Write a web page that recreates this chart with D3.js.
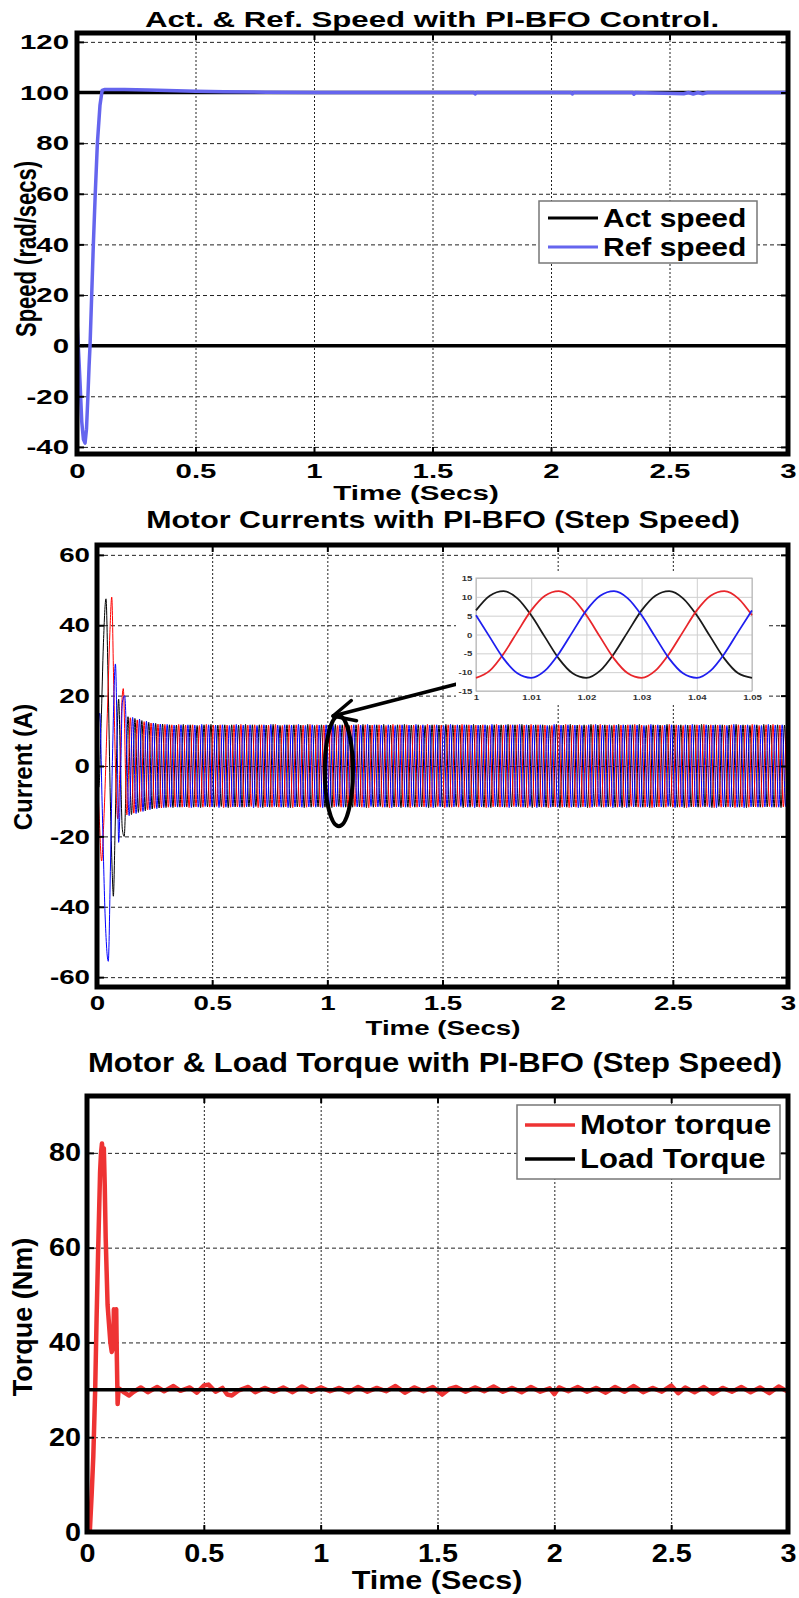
<!DOCTYPE html>
<html>
<head>
<meta charset="utf-8">
<script src="https://cdn.jsdelivr.net/npm/d3@7.9.0/dist/d3.min.js"></script>
<style>
  body { margin: 0; background: #fff; }
  svg text { font-family: "Liberation Sans", Arial, sans-serif; font-weight: bold; }
</style>
</head>
<body>
<svg id="fig" width="799" height="1598"></svg>
<script>
// ---------- data ----------
const timeTicks = [0, 0.5, 1, 1.5, 2, 2.5, 3];
const speedTicks = [-40, -20, 0, 20, 40, 60, 80, 100, 120];
const currentTicks = [-60, -40, -20, 0, 20, 40, 60];
const torqueTicks = [0, 20, 40, 60, 80];
const insetTimeTicks = [1, 1.01, 1.02, 1.03, 1.04, 1.05];
const insetCurrentTicks = [-15, -10, -5, 0, 5, 10, 15];

// speed panel (blue trace is the one the legend calls "Ref speed")
const refSpeed = [
  [0, 10], [0.008, -5], [0.014, -17], [0.02, -30], [0.027, -37], [0.034, -38.5],
  [0.04, -33], [0.046, -20], [0.051, -8], [0.055, 0], [0.062, 20], [0.069, 40],
  [0.077, 60], [0.086, 80], [0.097, 95], [0.106, 100.8], [0.118, 101.2], [0.2, 101.2],
  [0.3, 101], [0.38, 100.8], [0.5, 100.5], [0.62, 100.3], [0.8, 100.1], [1, 100],
  [1.675, 100], [1.68, 99.4], [1.685, 100], [2.085, 100], [2.09, 99.4], [2.095, 100],
  [2.345, 100], [2.35, 99.3], [2.355, 100], [2.56, 99.5], [2.58, 100], [2.6, 99.4],
  [2.62, 100], [2.64, 99.5], [2.66, 100], [3, 100]
];
const actSpeedHigh = [[0, 100], [3, 100]];
const actSpeedLow = [[0, 0], [3, 0]];

// currents: start-up transient (time, amps)
const blackTransient = [
  [0, 0], [0.008, -6], [0.018, 12], [0.028, 35], [0.039, 47.5], [0.048, 25], [0.058, -10],
  [0.066, -30], [0.071, -37], [0.078, -20], [0.086, 5], [0.094, 19], [0.102, 0],
  [0.11, -18], [0.118, -20]
];
const redTransient = [
  [0, 0], [0.01, -15], [0.02, -27], [0.03, -15], [0.045, 15], [0.056, 38], [0.064, 48],
  [0.072, 25], [0.082, -5], [0.09, -15], [0.1, 0], [0.108, 18], [0.114, 22]
];
const blueTransient = [
  [0, 5], [0.012, 15], [0.022, -10], [0.035, -42], [0.049, -55.5], [0.058, -30],
  [0.068, 5], [0.08, 29], [0.088, 5], [0.094, -21.7], [0.102, -5], [0.11, 18], [0.12, 20]
];

// steady state: successive peaks/troughs, one every half period (0.03 s period from the inset)
const halfPeriod = 0.015;
const blackStart = 0.1347, redStart = 0.1297, blueStart = 0.1397;
const blackSteady = [
  14.0,-13.8,13.5,-13.2,12.9,-12.7,12.4,-12.2,12.1,-11.9,11.9,-11.8,11.7,-11.8,11.6,-11.7,
  11.8,-11.6,11.7,-11.7,11.5,-11.8,11.7,-11.6,11.8,-11.7,11.6,-11.5,11.7,-11.8,11.7,-11.6,
  11.6,-11.7,11.8,-11.6,11.7,-11.5,11.7,-11.8,11.6,-11.7,11.8,-11.6,11.5,-11.7,11.7,-11.8,
  11.7,-11.6,11.6,-11.8,11.8,-11.7,11.5,-11.6,11.7,-11.7,11.6,-11.8,11.8,-11.5,11.7,-11.7,
  11.5,-11.7,11.7,-11.6,11.8,-11.8,11.6,-11.7,11.7,-11.5,11.8,-11.7,11.6,-11.6,11.7,-11.8,
  11.8,-11.7,11.6,-11.7,11.7,-11.6,11.5,-11.8,11.7,-11.7,11.6,-11.6,11.8,-11.7,11.7,-11.5,
  11.6,-11.8,11.7,-11.7,11.8,-11.6,11.6,-11.7,11.5,-11.8,11.7,-11.6,11.7,-11.7,11.8,-11.6,
  11.7,-11.5,11.8,-11.7,11.6,-11.8,11.7,-11.6,11.7,-11.7,11.5,-11.6,11.8,-11.8,11.6,-11.7,
  11.8,-11.6,11.6,-11.7,11.7,-11.8,11.8,-11.5,11.6,-11.7,11.7,-11.6,11.5,-11.7,11.8,-11.8,
  11.6,-11.7,11.7,-11.6,11.8,-11.7,11.5,-11.8,11.7,-11.6,11.6,-11.7,11.8,-11.5,11.7,-11.7,
  11.7,-11.8,11.6,-11.6,11.7,-11.7,11.8,-11.6,11.6,-11.8,11.7,-11.5,11.7,-11.7,11.6,-11.6,
  11.8,-11.7,11.7,-11.8,11.5,-11.6,11.7,-11.7,11.8,-11.6,11.6,-11.7,11.7,-11.8,11.6,-11.7,
  11.7
];
const redSteady = [
  -13.9,13.7,-13.4,13.1,-12.9,12.6,-12.4,12.2,-12.0,11.9,-11.9,11.8,-11.7,11.7,-11.6,11.8,
  -11.7,11.6,-11.8,11.7,-11.6,11.5,-11.7,11.8,-11.7,11.6,-11.5,11.7,-11.8,11.6,-11.7,11.7,
  -11.6,11.8,-11.7,11.6,-11.5,11.7,-11.8,11.7,-11.6,11.6,-11.7,11.8,-11.7,11.5,-11.6,11.7,
  -11.8,11.7,-11.6,11.6,-11.7,11.8,-11.5,11.7,-11.7,11.6,-11.8,11.7,-11.6,11.5,-11.7,11.8,
  -11.7,11.6,-11.5,11.8,-11.7,11.7,-11.8,11.6,-11.6,11.7,-11.7,11.5,-11.8,11.8,-11.6,11.7,
  -11.6,11.7,-11.8,11.6,-11.7,11.5,-11.6,11.8,-11.7,11.7,-11.5,11.6,-11.8,11.7,-11.7,11.6,
  -11.7,11.8,-11.6,11.7,-11.5,11.6,-11.7,11.7,-11.8,11.5,-11.6,11.8,-11.7,11.6,-11.7,11.7,
  -11.5,11.7,-11.7,11.6,-11.8,11.8,-11.6,11.7,-11.7,11.6,-11.8,11.5,-11.6,11.7,-11.7,11.8,
  -11.8,11.6,-11.7,11.7,-11.6,11.5,-11.8,11.7,-11.6,11.8,-11.7,11.6,-11.5,11.7,-11.7,11.6,
  -11.6,11.7,-11.5,11.8,-11.7,11.6,-11.7,11.7,-11.8,11.6,-11.6,11.5,-11.7,11.8,-11.7,11.7,
  -11.7,11.5,-11.8,11.6,-11.6,11.7,-11.7,11.8,-11.5,11.7,-11.8,11.6,-11.7,11.6,-11.6,11.7,
  -11.8,11.7,-11.6,11.6,-11.7,11.8,-11.6,11.5,-11.7,11.7,-11.5,11.8,-11.7,11.6,-11.6,11.7,
  -11.7
];
const blueSteady = [
  -14.1,13.8,-13.5,13.3,-12.9,12.7,-12.4,12.2,-12.1,11.9,-11.8,11.8,-11.7,11.6,-11.7,11.7,
  -11.6,11.7,-11.8,11.6,-11.7,11.8,-11.5,11.7,-11.6,11.6,-11.8,11.7,-11.7,11.5,-11.6,11.8,
  -11.7,11.6,-11.6,11.7,-11.8,11.5,-11.7,11.7,-11.6,11.8,-11.5,11.6,-11.7,11.7,-11.8,11.6,
  -11.6,11.8,-11.7,11.5,-11.6,11.7,-11.7,11.6,-11.8,11.7,-11.6,11.8,-11.5,11.7,-11.7,11.6,
  -11.8,11.7,-11.6,11.6,-11.7,11.8,-11.5,11.7,-11.6,11.6,-11.7,11.7,-11.8,11.5,-11.6,11.7,
  -11.7,11.6,-11.5,11.8,-11.6,11.7,-11.7,11.6,-11.8,11.7,-11.6,11.5,-11.7,11.8,-11.6,11.7,
  -11.5,11.7,-11.7,11.6,-11.8,11.6,-11.6,11.7,-11.7,11.8,-11.5,11.6,-11.6,11.7,-11.8,11.7,
  -11.6,11.8,-11.7,11.7,-11.5,11.6,-11.8,11.7,-11.6,11.5,-11.7,11.8,-11.7,11.6,-11.6,11.7,
  -11.7,11.6,-11.8,11.5,-11.6,11.7,-11.7,11.8,-11.5,11.6,-11.7,11.7,-11.8,11.6,-11.6,11.7,
  -11.8,11.7,-11.6,11.6,-11.7,11.5,-11.6,11.8,-11.7,11.7,-11.6,11.6,-11.5,11.7,-11.8,11.6,
  -11.6,11.7,-11.7,11.8,-11.6,11.6,-11.5,11.7,-11.7,11.6,-11.8,11.7,-11.6,11.5,-11.7,11.8,
  -11.7,11.6,-11.8,11.7,-11.6,11.7,-11.7,11.5,-11.6,11.8,-11.7,11.6,-11.7,11.7,-11.5,11.6,
  -11.6
];

// inset: one 50 ms window around t = 1 s
const insetTimes = [1, 1.0025, 1.005, 1.0075, 1.01, 1.0125, 1.015, 1.0175, 1.02, 1.0225, 1.025,
  1.0275, 1.03, 1.0325, 1.035, 1.0375, 1.04, 1.0425, 1.045, 1.0475, 1.05];
const insetBlack = [6.4, 10.3, 11.5, 9.6, 5.1, -0.7, -6.4, -10.3, -11.5, -9.6, -5.1, 0.7, 6.4, 10.3,
  11.5, 9.6, 5.1, -0.7, -6.4, -10.3, -11.5];
const insetRed = [-11.5, -9.6, -5.1, 0.7, 6.4, 10.3, 11.5, 9.6, 5.1, -0.7, -6.4, -10.3, -11.5, -9.6,
  -5.1, 0.7, 6.4, 10.3, 11.5, 9.6, 5.1];
const insetBlue = [5.1, -0.7, -6.4, -10.3, -11.5, -9.6, -5.1, 0.7, 6.4, 10.3, 11.5, 9.6, 5.1, -0.7,
  -6.4, -10.3, -11.5, -9.6, -5.1, 0.7, 6.4];

// torque panel
const motorTorque = [
  [0, 0], [0.012, 0], [0.02, 8], [0.027, 16], [0.035, 30], [0.041, 45], [0.048, 60],
  [0.052, 68], [0.056, 76], [0.06, 80], [0.064, 82], [0.068, 79], [0.072, 81], [0.076, 73],
  [0.08, 62], [0.084, 55], [0.088, 48], [0.094, 44], [0.1, 40], [0.106, 38], [0.112, 39],
  [0.115, 47], [0.12, 46], [0.125, 47], [0.128, 36], [0.131, 27], [0.135, 30],
  [0.14, 30.2], [0.16, 29.4], [0.18, 28.8], [0.2, 29.6], [0.23, 30.5], [0.26, 29.5],
  [0.3, 30.6], [0.33, 29.7], [0.37, 30.8], [0.4, 29.8], [0.44, 30.5], [0.47, 29.4],
  [0.5, 30.9], [0.52, 31.1], [0.55, 29.6], [0.58, 30.4], [0.6, 29.0], [0.62, 28.8],
  [0.65, 29.9], [0.69, 30.6], [0.72, 29.5], [0.76, 30.4], [0.8, 29.6], [0.84, 30.5],
  [0.88, 29.5], [0.92, 30.7], [0.96, 29.6], [1.0, 30.5], [1.04, 29.7], [1.08, 30.4],
  [1.12, 29.5], [1.16, 30.6], [1.2, 29.6], [1.24, 30.4], [1.28, 29.7], [1.32, 30.8],
  [1.36, 29.4], [1.4, 30.5], [1.44, 29.7], [1.48, 30.6], [1.52, 29.0], [1.55, 30.2],
  [1.58, 30.6], [1.62, 29.6], [1.66, 30.5], [1.7, 29.7], [1.74, 30.7], [1.78, 29.6],
  [1.82, 30.4], [1.86, 29.5], [1.9, 30.6], [1.94, 29.6], [1.98, 30.3], [2.0, 29.1],
  [2.02, 30.5], [2.06, 29.7], [2.1, 30.6], [2.14, 29.6], [2.18, 30.4], [2.22, 29.4],
  [2.26, 30.6], [2.3, 29.6], [2.34, 30.8], [2.38, 29.5], [2.42, 30.4], [2.46, 29.6],
  [2.5, 30.9], [2.53, 29.3], [2.56, 30.5], [2.6, 29.5], [2.64, 30.6], [2.68, 29.2],
  [2.72, 30.4], [2.76, 29.6], [2.8, 30.6], [2.84, 29.5], [2.88, 30.5], [2.92, 29.3],
  [2.96, 30.7], [3.0, 29.6]
];
const loadTorque = [[0, 30], [3, 30]];

// ---------- drawing ----------
const svg = d3.select('#fig');
let clipCount = 0;

function panel(box, yDomain, yTicks) {
  const g = svg.append('g');
  const x = d3.scaleLinear().domain([0, 3]).range([box.left, box.right]);
  const y = d3.scaleLinear().domain(yDomain).range([box.bottom, box.top]);
  const w = box.right - box.left, h = box.bottom - box.top;

  g.append('g').attr('transform', `translate(0,${box.bottom})`)
    .call(d3.axisBottom(x).tickValues(timeTicks).tickSize(-h).tickFormat(''))
    .call(s => s.select('.domain').remove())
    .selectAll('line').attr('stroke', '#222').attr('stroke-dasharray', '2,2');
  g.append('g').attr('transform', `translate(${box.left},0)`)
    .call(d3.axisLeft(y).tickValues(yTicks).tickSize(-w).tickFormat(''))
    .call(s => s.select('.domain').remove())
    .selectAll('line').attr('stroke', '#222').attr('stroke-dasharray', '4,3');

  const id = 'clip' + (clipCount++);
  svg.append('clipPath').attr('id', id).append('rect')
    .attr('x', box.left).attr('y', box.top).attr('width', w).attr('height', h);
  const plot = g.append('g').attr('clip-path', `url(#${id})`);
  return { g, plot, x, y, box, yTicks };
}

function frame(p, fs, sx, padX, padY) {
  const { g, x, y, box } = p;
  // inward tick marks on all four sides
  const tk = [
    [d3.axisBottom(x).tickValues(timeTicks), `translate(0,${box.bottom})`],
    [d3.axisTop(x).tickValues(timeTicks), `translate(0,${box.top})`],
    [d3.axisLeft(y).tickValues(p.yTicks), `translate(${box.left},0)`],
    [d3.axisRight(y).tickValues(p.yTicks), `translate(${box.right},0)`]
  ];
  tk.forEach(([ax, tr]) => {
    g.append('g').attr('transform', tr)
      .call(ax.tickSize(-7).tickFormat(''))
      .call(s => s.select('.domain').remove())
      .selectAll('line').attr('stroke', '#000').attr('stroke-width', 2);
  });
  g.append('rect')
    .attr('x', box.left).attr('y', box.top)
    .attr('width', box.right - box.left).attr('height', box.bottom - box.top)
    .attr('fill', 'none').attr('stroke', '#000').attr('stroke-width', 5);

  const bx = g.append('g').attr('transform', `translate(0,${box.bottom})`)
    .call(d3.axisBottom(x).tickValues(timeTicks).tickSize(0).tickPadding(padY).tickFormat(d => d));
  bx.select('.domain').remove();
  bx.selectAll('text').attr('font-size', fs).attr('fill', '#000').attr('transform', `scale(${sx},1)`);

  const by = g.append('g').attr('transform', `translate(${box.left},0)`)
    .call(d3.axisLeft(y).tickValues(p.yTicks).tickSize(0).tickPadding(padX / sx).tickFormat(d => d));
  by.select('.domain').remove();
  by.selectAll('text').attr('font-size', fs).attr('fill', '#000').attr('transform', `scale(${sx},1)`);
}

function label(x, y, str, fs, sx, rot) {
  return svg.append('text')
    .attr('transform', `translate(${x},${y}) scale(${sx},1)` + (rot ? ` rotate(${rot})` : ''))
    .attr('text-anchor', 'middle').attr('dy', '0.35em')
    .attr('font-size', fs).attr('fill', '#000').text(str);
}

function trace(p, pts, color, width, curve) {
  p.plot.append('path')
    .datum(pts)
    .attr('fill', 'none').attr('stroke', color).attr('stroke-width', width)
    .attr('stroke-linejoin', 'round')
    .attr('d', d3.line().x(d => p.x(d[0])).y(d => p.y(d[1])).curve(curve || d3.curveLinear));
}

function legend(box, rows, fs, sx) {
  const lg = svg.append('g');
  lg.append('rect').attr('x', box.x).attr('y', box.y).attr('width', box.w).attr('height', box.h)
    .attr('fill', '#fff').attr('stroke', '#777').attr('stroke-width', 1.5);
  rows.forEach((r, i) => {
    const cy = box.y + box.rows[i];
    lg.append('line').attr('x1', box.x + box.l0).attr('x2', box.x + box.l1)
      .attr('y1', cy).attr('y2', cy).attr('stroke', r.color).attr('stroke-width', r.width);
    lg.append('text')
      .attr('transform', `translate(${box.x + box.tx},${cy}) scale(${sx},1)`)
      .attr('dy', '0.35em').attr('font-size', fs).attr('fill', '#000').text(r.name);
  });
}

// ----- panel 1: speed -----
const p1 = panel({ left: 77, right: 788, top: 33, bottom: 454 }, [-42.8, 123.5], speedTicks);
trace(p1, actSpeedLow, '#000', 3.5);
trace(p1, actSpeedHigh, '#000', 3.5);
trace(p1, refSpeed, '#6565ee', 3.5);
frame(p1, 21, 1.4, 8, 9);
label(432, 19, 'Act. & Ref. Speed with PI-BFO Control.', 22, 1.42);
label(416, 493, 'Time (Secs)', 20, 1.48);
label(26, 249, 'Speed (rad/secs)', 22, 1.35, -90);
legend({ x: 539, y: 201, w: 218, h: 62, rows: [17, 46], l0: 9, l1: 59, tx: 64 },
  [{ name: 'Act speed', color: '#000', width: 3 }, { name: 'Ref speed', color: '#6565ee', width: 3 }],
  25, 1.2);

// ----- panel 2: currents -----
const p2 = panel({ left: 97, right: 788, top: 545, bottom: 987 }, [-62.8, 62.8], currentTicks);
const phaseBlack = blackTransient.concat(blackSteady.map((v, i) => [blackStart + i * halfPeriod, v]));
const phaseRed = redTransient.concat(redSteady.map((v, i) => [redStart + i * halfPeriod, v]));
const phaseBlue = blueTransient.concat(blueSteady.map((v, i) => [blueStart + i * halfPeriod, v]));
trace(p2, phaseBlack, '#000', 1, d3.curveMonotoneX);
trace(p2, phaseRed, '#ff0000', 1, d3.curveMonotoneX);
trace(p2, phaseBlue, '#0000ff', 1, d3.curveMonotoneX);
frame(p2, 21, 1.32, 7, 8.4);
label(443, 520, 'Motor Currents with PI-BFO (Step Speed)', 23, 1.32);
label(443, 1028, 'Time (Secs)', 21, 1.32);
label(23, 767, 'Current (A)', 24, 1.1, -90);

// zoom ellipse + arrow, placed in data units of panel 2
const ann = p2.g.append('g');
ann.append('ellipse')
  .attr('cx', p2.x(1.05)).attr('cy', p2.y(-1.4))
  .attr('rx', p2.x(1.111) - p2.x(1.05)).attr('ry', p2.y(-17.1) - p2.y(-1.4))
  .attr('fill', 'none').attr('stroke', '#000').attr('stroke-width', 4);
const tip = [p2.x(1.0246), p2.y(14.2)], tail = [p2.x(1.563), p2.y(23.3)];
ann.append('line').attr('x1', tail[0]).attr('y1', tail[1]).attr('x2', tip[0]).attr('y2', tip[1])
  .attr('stroke', '#000').attr('stroke-width', 3.5);
const ang = Math.atan2(tail[1] - tip[1], tail[0] - tip[0]);
[0.45, -0.45].forEach(da => {
  ann.append('line').attr('x1', tip[0]).attr('y1', tip[1])
    .attr('x2', tip[0] + 24 * Math.cos(ang + da)).attr('y2', tip[1] + 24 * Math.sin(ang + da))
    .attr('stroke', '#000').attr('stroke-width', 3.5).attr('stroke-linecap', 'round');
});

// inset
const ib = { left: 476, right: 752, top: 578, bottom: 691 };
const ix = d3.scaleLinear().domain([1, 1.05]).range([ib.left, ib.right]);
const iy = d3.scaleLinear().domain([-15, 15]).range([ib.bottom, ib.top]);
const ins = svg.append('g');
ins.append('rect').attr('x', 456).attr('y', 571).attr('width', 310).attr('height', 132).attr('fill', '#fff');
ins.append('g').attr('transform', `translate(0,${ib.bottom})`)
  .call(d3.axisBottom(ix).tickValues(insetTimeTicks).tickSize(-(ib.bottom - ib.top)).tickFormat(''))
  .call(s => s.select('.domain').remove())
  .selectAll('line').attr('stroke', '#cfcfcf');
ins.append('g').attr('transform', `translate(${ib.left},0)`)
  .call(d3.axisLeft(iy).tickValues(insetCurrentTicks).tickSize(-(ib.right - ib.left)).tickFormat(''))
  .call(s => s.select('.domain').remove())
  .selectAll('line').attr('stroke', '#cfcfcf');
ins.append('rect').attr('x', ib.left).attr('y', ib.top)
  .attr('width', ib.right - ib.left).attr('height', ib.bottom - ib.top)
  .attr('fill', 'none').attr('stroke', '#b5b5b5');
[[insetBlack, '#1a1a1a'], [insetRed, '#e8262b'], [insetBlue, '#1f1fef']].forEach(([vals, c]) => {
  ins.append('path').datum(vals)
    .attr('fill', 'none').attr('stroke', c).attr('stroke-width', 1.8)
    .attr('d', d3.line().x((d, i) => ix(insetTimes[i])).y(d => iy(d)).curve(d3.curveMonotoneX));
});
const ixl = ins.append('g').attr('transform', `translate(0,${ib.bottom})`)
  .call(d3.axisBottom(ix).tickValues(insetTimeTicks).tickSize(0).tickPadding(3).tickFormat(d => +d.toFixed(2)));
ixl.select('.domain').remove();
ixl.selectAll('text').attr('font-size', 8).attr('fill', '#333').attr('transform', 'scale(1.2,1)');
const iyl = ins.append('g').attr('transform', `translate(${ib.left},0)`)
  .call(d3.axisLeft(iy).tickValues(insetCurrentTicks).tickSize(0).tickPadding(3).tickFormat(d => d));
iyl.select('.domain').remove();
iyl.selectAll('text').attr('font-size', 8).attr('fill', '#333').attr('transform', 'scale(1.2,1)');

// ----- panel 3: torque -----
const p3 = panel({ left: 87, right: 788, top: 1096, bottom: 1532 }, [0, 92], torqueTicks);
trace(p3, motorTorque, '#ee3333', 4.5);
trace(p3, loadTorque, '#000', 3.5);
frame(p3, 25, 1.15, 6, 12);
label(435, 1063, 'Motor & Load Torque with PI-BFO (Step Speed)', 27, 1.15);
label(437, 1580, 'Time (Secs)', 25, 1.22);
label(22, 1317, 'Torque (Nm)', 27, 1.05, -90);
legend({ x: 517, y: 1105, w: 263, h: 74, rows: [20, 54], l0: 8, l1: 58, tx: 63 },
  [{ name: 'Motor torque', color: '#ee3333', width: 3.5 }, { name: 'Load Torque', color: '#000', width: 3.5 }],
  27, 1.15);
</script>
</body>
</html>
